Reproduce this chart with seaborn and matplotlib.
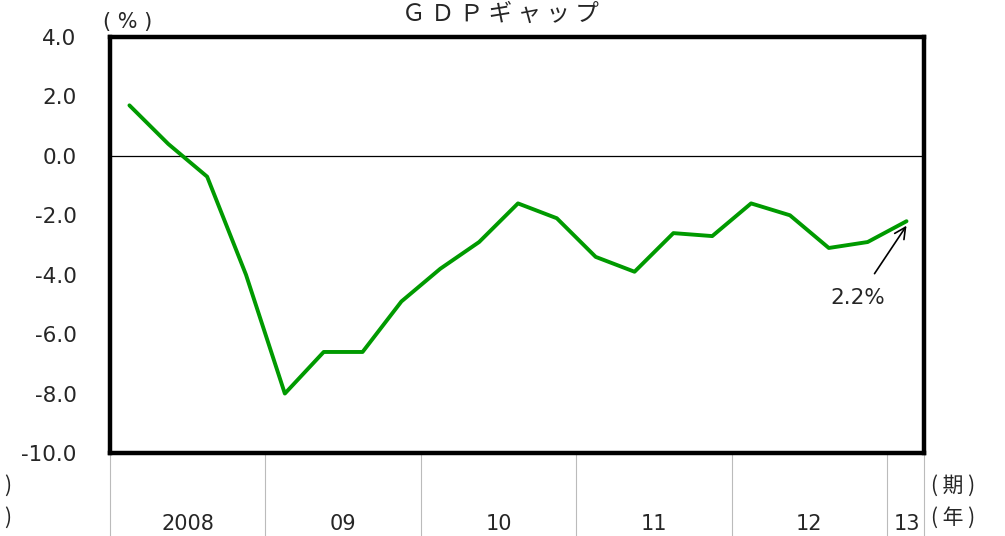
import numpy as np
import pandas as pd
import matplotlib
matplotlib.use("Agg")
import matplotlib.pyplot as plt
import matplotlib.transforms as mtrans
import seaborn as sns

# ---- data ----
quarters = ["2008Q1", "2008Q2", "2008Q3", "2008Q4",
            "2009Q1", "2009Q2", "2009Q3", "2009Q4",
            "2010Q1", "2010Q2", "2010Q3", "2010Q4",
            "2011Q1", "2011Q2", "2011Q3", "2011Q4",
            "2012Q1", "2012Q2", "2012Q3", "2012Q4",
            "2013Q1"]
gdp_gap = [1.7, 0.4, -0.7, -4.0,
           -8.0, -6.6, -6.6, -4.9,
           -3.8, -2.9, -1.6, -2.1,
           -3.4, -3.9, -2.6, -2.7,
           -1.6, -2.0, -3.1, -2.9,
           -2.2]
year_labels = ["2008", "09", "10", "11", "12", "13"]
year_start_idx = [0, 4, 8, 12, 16, 20]
y_ticks = [4.0, 2.0, 0.0, -2.0, -4.0, -6.0, -8.0, -10.0]
title = "Ｇ Ｄ Ｐ ギ ャ ッ プ"
last_label = "2.2%"

sns.set_style("white")
plt.rcParams["font.family"] = ["Noto Sans CJK JP", "DejaVu Sans"]

fig = plt.figure(figsize=(10.05, 5.36), dpi=100)
ax = fig.add_axes([110/1005, 83/536, (924-110)/1005, (453-37)/536])

df = pd.DataFrame({"pos": np.arange(len(gdp_gap)) + 0.5, "gap": gdp_gap})
sns.lineplot(data=df, x="pos", y="gap", ax=ax, color="#009a00", linewidth=2.8)

ax.axhline(0, color="black", linewidth=0.9, zorder=1)
ax.set_xlim(0, 20.95)
ax.set_ylim(-10, 4)
ax.set_yticks(y_ticks)
ax.set_yticklabels([f"{v:.1f}" for v in y_ticks], fontsize=15.5, family=["DejaVu Sans"])
ax.tick_params(axis="y", direction="in", length=5, width=0.6, color="#aaaaaa", pad=24)
ax.set_xticks([])
ax.set_xlabel("")
ax.set_ylabel("")
for s in ax.spines.values():
    s.set_linewidth(3.2)
    s.set_color("black")
    s.set_visible(True)

# year separators and labels below the axes
trans = mtrans.blended_transform_factory(ax.transData, ax.transAxes)
bottom = -83/416
for i in year_start_idx + [20.95]:
    ax.plot([i, i], [0, bottom], transform=trans, color="#bbbbbb", linewidth=0.8, clip_on=False)
for k, lab in enumerate(year_labels):
    start = year_start_idx[k]
    end = year_start_idx[k+1] if k + 1 < len(year_start_idx) else 21
    ax.text((start + end) / 2, bottom + 2/416, lab, transform=trans, ha="center", va="bottom",
            fontsize=15, family=["DejaVu Sans"])

# title and unit labels
fig.text(500/1005, 1 - 14/536, title, ha="center", va="center", fontsize=17)
fig.text(128/1005, 1 - 22/536, "( % )", ha="center", va="center", fontsize=15,
         family=["DejaVu Sans"])
fig.text(953/1005, 1 - 486/536, "( 期 )", ha="center", va="center", fontsize=15)
fig.text(953/1005, 1 - 518/536, "( 年 )", ha="center", va="center", fontsize=15)
fig.text(8/1005, 1 - 486/536, ")", ha="center", va="center", fontsize=15)
fig.text(8/1005, 1 - 518/536, ")", ha="center", va="center", fontsize=15)

# annotation for latest value
ax.annotate(last_label, xy=(df["pos"].iloc[-1], gdp_gap[-1] - 0.15),
            xytext=(df["pos"].iloc[-1] - 1.25, -4.8),
            ha="center", va="center", fontsize=15.5, family=["DejaVu Sans"],
            arrowprops=dict(arrowstyle="->", color="black", lw=1.2,
                            shrinkA=10, shrinkB=0, mutation_scale=20))

fig.savefig("out.png", dpi=100)
